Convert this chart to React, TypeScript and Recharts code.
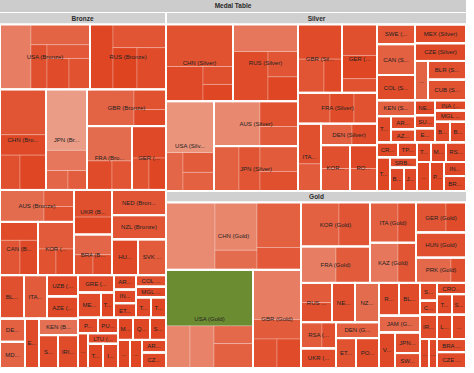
import React from 'react';
import { Treemap } from 'recharts';

// ---------- data ----------
const chartTitle = 'Medal Table';
const medalNames = ['Bronze', 'Silver', 'Gold'];

// color scale: 0 = min (red), 0.5 = mid, 1 = max (green)
const minColor = [222, 62, 26];
const midColor = [242, 205, 190];
const maxColor = [108, 140, 50];

// Country node: [code, value, shade, subcells?]; subcells: [share, shade] leaves, arrays = groups
const bronzeTree: any[] = [
  [
    [
      ['USA', 56.3, 0.1, [[34, 0.22], [[21, 0.13], [[12, 0.06], [[10, 0.09], [[12, 0.05], [11, 0.07]]]]]]],
      ['RUS', 47.0, 0.04, [[30, 0.03], [[25, 0.08], [[20, 0.02], [25, 0.05]]]]],
    ],
    [
      ['CHN', 44.4, 0.06, [[45, 0.08], [[20, 0.04], [[15, 0.06], [20, 0.03]]]]],
      [
        ['JPN', 40.0, 0.3, [[61, 0.33], [[20, 0.2], [[10, 0.14], [9, 0.11]]]]],
        [
          ['GBR', 28.4, 0.1, [[60, 0.13], [[22, 0.07], [18, 0.04]]]],
          [
            ['FRA', 27.8, 0.1, [[55, 0.16], [[25, 0.05], [20, 0.08]]]],
            ['GER', 21.3, 0.05, [[50, 0.04], [[25, 0.07], [25, 0.03]]]],
          ],
        ],
      ],
    ],
  ],
  [
    [
      [
        ['AUS', 22.7, 0.15, [[60, 0.16], [[20, 0.1], [20, 0.07]]]],
        [
          ['CAN', 19.2, 0.06, [[35, 0.05], [[35, 0.08], [30, 0.04]]]],
          ['KOR', 18.4, 0.08, [[50, 0.1], [[25, 0.07], [25, 0.05]]]],
        ],
      ],
      [
        [
          ['UKR', 16.3, 0.05, [[60, 0.06], [40, 0.03]]],
          ['BRA', 15.2, 0.1, [[50, 0.14], [[25, 0.07], [25, 0.05]]]],
        ],
        [['NED', 13.0, 0.08], [['NZL', 12.5, 0.08], [['HUN', 9.2, 0.04], ['SVK', 9.6, 0.1]]]],
      ],
    ],
    [
      [
        [['BLR', 10.4, 0.06], [['ITA', 9.6, 0.1], [['UZB', 6.5, 0.04], ['AZE', 6.8, 0.04]]]],
        [
          [['DEN', 5.5, 0.12], ['MDA', 6.4, 0.13]],
          [['ESP', 6.7, 0.05], [['KEN', 6.1, 0.18], [['SRB', 6.3, 0.05], ['IRI', 6.4, 0.05]]]],
        ],
      ],
      [
        [
          [['GRE', 5.9, 0.05], [['MEX', 5.7, 0.05], ['TPE', 3.1, 0.03]]],
          [
            [['ARG', 3.0, 0.04], [['IND', 3.0, 0.04], ['ETH', 3.1, 0.03]]],
            [['COL', 3.2, 0.06], [['MGL', 3.0, 0.04], [['THA', 3.0, 0.04], ['TUN', 3.0, 0.03]]]],
          ],
        ],
        [
          [
            [['POL', 3.1, 0.05], ['PUR', 3.0, 0.04]],
            [['GEO', 3.5, 0.03], [['LTU', 3.1, 0.05], [['TUR', 3.4, 0.03], ['IRL', 3.4, 0.04]]]],
          ],
          [
            [['MAS', 3.3, 0.03], [['QAT', 3.6, 0.03], ['SGP', 3.6, 0.03]]],
            [['KSA', 3.4, 0.03], [['AFG', 3.2, 0.03], [['ARM', 2.9, 0.04], ['CZE', 3.7, 0.04]]]],
          ],
        ],
      ],
    ],
  ],
];

const silverTree: any[] = [
  [
    [
      [
        ['CHN', 51.6, 0.06, [[55, 0.07], [[25, 0.04], [[10, 0.06], [10, 0.03]]]]],
        ['RUS', 49.7, 0.08, [[35, 0.2], [[35, 0.05], [[15, 0.08], [15, 0.03]]]]],
      ],
      [
        ['USA', 43.7, 0.25, [[57, 0.3], [[15, 0.14], [[14, 0.1], [14, 0.12]]]]],
        [
          ['AUS', 37.8, 0.2, [[55, 0.26], [[25, 0.07], [20, 0.1]]]],
          ['JPN', 37.8, 0.1, [[30, 0.12], [[25, 0.08], [[25, 0.1], [20, 0.06]]]]],
        ],
      ],
    ],
    [
      [
        ['GBR', 29.8, 0.06, [[50, 0.05], [[30, 0.08], [20, 0.04]]]],
        ['GER', 24.3, 0.05, [[45, 0.06], [[35, 0.03], [20, 0.07]]]],
      ],
      [
        ['FRA', 24.5, 0.07, [[40, 0.08], [[30, 0.05], [30, 0.07]]]],
        [
          ['ITA', 15.7, 0.07, [[60, 0.06], [40, 0.1]]],
          [
            ['DEN', 11.7, 0.09, [[55, 0.12], [45, 0.05]]],
            [
              ['KOR', 13.3, 0.07, [[50, 0.06], [50, 0.09]]],
              ['ROU', 12.2, 0.06, [[50, 0.04], [50, 0.08]]],
            ],
          ],
        ],
      ],
    ],
  ],
  [
    [
      [['SWE', 7.4, 0.08], [['CAN', 11.8, 0.12], ['COL', 9.5, 0.05]]],
      [['MEX', 9.3, 0.05], [['CZE', 9.1, 0.04], [['ESP', 5.1, 0.13], [['BLR', 7.1, 0.06], ['CUB', 7.5, 0.07]]]]],
    ],
    [
      [
        [['KEN', 6.1, 0.12], [['TUR', 3.6, 0.04], [['ARM', 3.1, 0.05], ['AZE', 3.1, 0.05]]]],
        [
          [['NED', 3.0, 0.04], [['SUI', 2.6, 0.05], ['EGY', 2.8, 0.05]]],
          [['INA', 3.2, 0.04], [['MGL', 3.4, 0.05], [['BEL', 3.1, 0.04], ['BOT', 3.2, 0.04]]]],
        ],
      ],
      [
        [
          [['CRO', 3.3, 0.04], ['TPE', 2.9, 0.04]],
          [['TTO', 4.4, 0.03], [['SRB', 2.8, 0.05], [['BUL', 3.1, 0.04], ['JAM', 3.1, 0.04]]]],
        ],
        [
          [['TUN', 2.8, 0.04], [['MAS', 2.9, 0.04], ['RSA', 4.0, 0.04]]],
          [['GUA', 3.8, 0.03], [['PUR', 3.9, 0.03], [['IND', 3.0, 0.04], ['BRA', 3.4, 0.04]]]],
        ],
      ],
    ],
  ],
];

const goldTree: any[] = [
  [
    ['CHN', 90.8, 0.25, [[49, 0.27], [[[30, 0.25], [12, 0.16]], [[30, 0.12], [15, 0.09]]]]],
    [
      ['USA', 85.7, 0.9, [[57, 1], [[12, 0.25], [[12, 0.24], [[8, 0.15], [11, 0.12]]]]]],
      ['GBR', 47.8, 0.2, [[50, 0.22], [[20, 0.1], [[15, 0.07], [15, 0.05]]]]],
    ],
  ],
  [
    [
      [
        ['KOR', 30.1, 0.1, [[55, 0.12], [45, 0.08]]],
        ['FRA', 24.7, 0.15, [[50, 0.22], [50, 0.1]]],
      ],
      [
        [
          ['ITA', 18.2, 0.1, [[60, 0.12], [40, 0.06]]],
          ['KAZ', 18.2, 0.15, [[60, 0.2], [40, 0.08]]],
        ],
        [
          ['GER', 15.2, 0.07, [[60, 0.08], [40, 0.05]]],
          [['HUN', 12.6, 0.06], ['PRK', 12.6, 0.13, [[70, 0.15], [30, 0.06]]]],
        ],
      ],
    ],
    [
      [
        [
          [['RUS', 12.2, 0.08, [[50, 0.1], [50, 0.06]]], [['NED', 9.1, 0.06], ['NZL', 9.5, 0.16]]],
          [
            [['RSA', 9.3, 0.08, [[60, 0.1], [40, 0.06]]], ['UKR', 6.8, 0.05]],
            [['DEN', 6.7, 0.12], [['ETH', 6.1, 0.07], ['POL', 7.0, 0.05]]],
          ],
        ],
        [
          [['ROU', 6.6, 0.05], ['BLR', 6.8, 0.05]],
          [['JAM', 6.7, 0.14], [['VEN', 5.8, 0.04], [['JPN', 5.1, 0.06], ['SWE', 3.7, 0.06]]]],
        ],
      ],
      [
        [
          [['SUI', 3.0, 0.05], ['CUB', 2.4, 0.05]],
          [['CRO', 3.2, 0.05], [['TUR', 3.0, 0.04], ['SRB', 3.0, 0.04]]],
        ],
        [
          [['IRI', 4.3, 0.05], [['LTU', 3.6, 0.04], ['GEO', 3.6, 0.04]]],
          [['ALG', 2.6, 0.04], [['BAH', 2.3, 0.04], [['BRA', 3.9, 0.05], ['CZE', 4.5, 0.05]]]],
        ],
      ],
    ],
  ],
];

// ---------- build ----------
function shareSum(t: any): number {
  return typeof t[0] === 'number' ? t[0] : t.reduce((s: number, c: any) => s + shareSum(c), 0);
}
function buildSub(t: any, k: number, medal: string): any {
  if (typeof t[0] === 'number') return { name: '', value: t[0] * k, shade: t[1], m: medal, sub: 1 };
  return { name: '', m: medal, children: t.map((c: any) => buildSub(c, k, medal)) };
}
function build(t: any, medal: string): any {
  if (typeof t[0] === 'string') {
    const [code, value, shade, sub] = t;
    const node: any = { name: code, lab: `${code} (${medal})`, shade, m: medal, cty: 1 };
    if (sub) {
      const k = value / shareSum(sub);
      node.children = sub.map((c: any) => buildSub(c, k, medal));
    } else node.value = value;
    return node;
  }
  return { name: '', m: medal, children: t.map((c: any) => build(c, medal)) };
}

const data = [
  { name: medalNames[0], hdr: 1, m: medalNames[0], children: bronzeTree.map((c) => build(c, medalNames[0])) },
  {
    name: '',
    children: [
      { name: medalNames[1], hdr: 1, m: medalNames[1], children: silverTree.map((c) => build(c, medalNames[1])) },
      { name: medalNames[2], hdr: 1, m: medalNames[2], children: goldTree.map((c) => build(c, medalNames[2])) },
    ],
  },
];

// ---------- rendering helpers ----------
const W = 466;
const H = 355;
const TOP = 13;
const HDR = 11.5;
const FONT = "'Liberation Sans', Arial, sans-serif";

function lerp(a: number[], b: number[], t: number) {
  return `rgb(${a.map((v, i) => Math.round(v + (b[i] - v) * t)).join(',')})`;
}
function color(v: number) {
  if (v <= 0.5) return lerp(minColor, midColor, v / 0.5);
  return lerp(midColor, maxColor, (v - 0.5) / 0.5);
}

const AW: Record<string, number> = {
  A: 667, B: 667, C: 722, D: 722, E: 667, F: 611, G: 778, H: 722, I: 278, J: 500, K: 667, L: 556, M: 833,
  N: 722, O: 778, P: 667, Q: 778, R: 722, S: 667, T: 611, U: 722, V: 667, W: 944, X: 667, Y: 667, Z: 611,
  ' ': 278, '(': 333, ')': 333, '.': 278, r: 333, o: 556, n: 556, z: 500, e: 556, i: 222, l: 222, v: 500, d: 556,
};
const FS = 6;
function tw(s: string) {
  let w = 0;
  for (const ch of s) w += AW[ch] ?? 556;
  return (w / 1000) * FS;
}
function fit(label: string, w: number) {
  const limit = 0.675 * w;
  if (tw(label) <= limit) return label;
  for (let n = label.length - 1; n > 0; n--) {
    const s = label.slice(0, n) + '...';
    if (tw(s) <= limit) return s;
  }
  return '...';
}

const groups: Record<string, { x: number; y: number; w: number; h: number }> = {};
function tf(p: any) {
  const g = groups[p.m];
  if (!g) return { x: p.x, y: p.y, w: p.width, h: p.height };
  const k = (g.h - HDR) / g.h;
  return { x: p.x, y: g.y + HDR + (p.y - g.y) * k, w: p.width, h: p.height * k };
}

function header(p: any) {
  const { x, y, width, height } = p;
  groups[p.m] = { x, y, w: width, h: height };
  const hx = x + (x > 0 ? 1 : 0);
  const hw = width - (x > 0 ? 1 : 0) - (x + width < W ? 1 : 0);
  const hy = y + (y > 0 ? 1 : 0);
  const hh = HDR - 1 - (y > 0 ? 1 : 0);
  return (
    <g>
      <rect x={hx} y={hy} width={hw} height={hh} fill="#d0d0d0" />
      <text x={hx + hw / 2} y={hy + hh / 2} dy="0.35em" textAnchor="middle" fontSize={6.5} fontWeight="bold" fontFamily={FONT} fill="#2a2a2a">
        {p.name}
      </text>
    </g>
  );
}

const renderBase = (p: any) => {
  if (p.hdr) return header(p);
  if (!p.m || (p.children && p.children.length)) return <g />;
  const r = tf(p);
  return (
    <rect
      x={r.x}
      y={r.y}
      width={r.w}
      height={r.h}
      fill={color(p.shade)}
      stroke={p.sub ? 'rgba(255,255,255,0.3)' : '#fff'}
      strokeWidth={p.sub ? 0.8 : 2}
    />
  );
};

const renderTop = (p: any) => {
  if (p.hdr) {
    groups[p.m] = { x: p.x, y: p.y, w: p.width, h: p.height };
    return <g />;
  }
  if (!p.cty) return <g />;
  const r = tf(p);
  return (
    <g>
      <rect x={r.x} y={r.y} width={r.w} height={r.h} fill="none" stroke="#fff" strokeWidth={2} />
      <text x={r.x + r.w / 2} y={r.y + r.h / 2} dy="0.35em" textAnchor="middle" fontSize={FS} fontFamily={FONT} fill="#222">
        {fit(p.lab, r.w)}
      </text>
    </g>
  );
};

export default function App() {
  return (
    <div style={{ position: 'absolute', left: 0, top: 0, width: 474, height: 373, background: '#fff', overflow: 'hidden' }}>
      <svg width={W} height={12} style={{ position: 'absolute', left: 0, top: 0 }}>
        <rect x={0} y={0} width={W} height={12} fill="#cccccc" />
        <text x={W / 2} y={6} dy="0.35em" textAnchor="middle" fontSize={6.5} fontWeight="bold" fontFamily={FONT} fill="#2a2a2a">
          {chartTitle}
        </text>
      </svg>
      <div style={{ position: 'absolute', left: 0, top: TOP }}>
        <Treemap width={W} height={H} data={data} dataKey="value" aspectRatio={0.9} isAnimationActive={false} content={renderBase as any} />
      </div>
      <div style={{ position: 'absolute', left: 0, top: TOP }}>
        <Treemap width={W} height={H} data={data} dataKey="value" aspectRatio={0.9} isAnimationActive={false} content={renderTop as any} />
      </div>
    </div>
  );
}
